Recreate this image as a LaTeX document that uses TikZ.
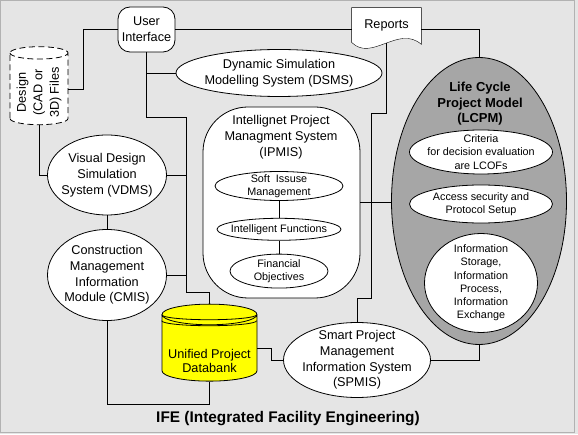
\documentclass[tikz,border=0pt]{standalone}
\usepackage{fontspec}
\setmainfont{Liberation Sans}
\usetikzlibrary{positioning, shapes.geometric, calc, backgrounds}

\definecolor{bggray}{RGB}{229,229,229}
\definecolor{lcpmgray}{RGB}{166,166,166}
\definecolor{dbyellow}{RGB}{255,255,0}
\newcommand{\bigfont}{\fontsize{12.7}{15.8}\selectfont}
\newcommand{\smallfont}{\fontsize{10.8}{13.2}\selectfont}

\begin{document}
\begin{tikzpicture}[x=1pt, y=1pt, line width=0.8pt,
    module/.style={draw, ellipse, fill=white, inner sep=-10pt, align=center, font=\bigfont},
    submodule/.style={draw, ellipse, fill=white, inner sep=-10pt, align=center, font=\smallfont},
    heading/.style={align=center, font=\bigfont}]
			\node (ui) [draw, rectangle, rounded corners=12pt, fill=white, minimum width=57pt, minimum height=45pt, inner sep=0pt, align=center, font=\bigfont] at (146.5,404.5) {User\\Interface};
			\node (rep) [rectangle, minimum width=69pt, minimum height=35pt, inner sep=0pt, font=\bigfont] at (386.5,408.5) {\raisebox{2.5pt}{Reports}};
			\node (design) [draw, dash pattern=on 6pt off 3.5pt, cylinder, shape border rotate=90, aspect=0.25, fill=white, minimum width=58pt, minimum height=78pt, inner sep=0pt, font=\fontsize{12.7}{16.5}\selectfont] at (39,345) {\raisebox{-29pt}[0pt][0pt]{\rotatebox{90}{\begin{tabular}{@{}c@{}}Design\\(CAD or\\3D) Files\end{tabular}}}};
			\node (dsms) [module, minimum width=206pt, minimum height=47pt] at (279,361) {Dynamic Simulation\\Modelling System (DSMS)};
			\node (ipmis) [draw, rectangle, rounded corners=45pt, fill=white, minimum width=157pt, minimum height=191pt] at (281.5,231.5) {};
			\node (ipmistitle) [heading] at (281,297) {Intellignet Project\\Managment System\\(IPMIS)};
			\node (soft) [submodule, minimum width=128pt, minimum height=29pt] at (279,248) {Soft\ \ Issuse\\Management};
			\node (intf) [submodule, minimum width=124pt, minimum height=22pt, below=17pt of soft] {Intelligent Functions};
			\node (fin) [submodule, minimum width=98pt, minimum height=34pt, below=13pt of intf] {Financial\\Objectives};
			\node (lcpm) [draw, ellipse, fill=lcpmgray, minimum width=175pt, minimum height=287pt] at (479,233) {};
			\node (lcpmtitle) [heading, font=\bfseries\fontsize{13}{15.5}\selectfont] at (480,330) {Life Cycle\\Project Model\\(LCPM)};
			\node (crit) [submodule, minimum width=143pt, minimum height=44pt] at (481,282) {Criteria\\for decision evaluation\\are LCOFs};
			\node (acc) [submodule, minimum width=143pt, minimum height=38pt] at (481,230) {Access security and\\Protocol Setup};
			\node (info) [submodule, minimum width=113pt, minimum height=99pt] at (481,151) {Information\\Storage,\\Information\\Process,\\Information\\Exchange};
			\node (vdms) [module, minimum width=119pt, minimum height=80pt] at (107,259) {Visual Design\\Simulation\\System (VDMS)};
			\node (cmis) [module, minimum width=119pt, minimum height=91pt] at (107,159) {Construction\\Management\\Information\\Module (CMIS)};
			\node (db) [draw, cylinder, shape border rotate=90, aspect=0.25, fill=dbyellow, minimum width=95pt, minimum height=77pt, inner sep=0pt, font=\fontsize{12.7}{14}\selectfont] at (209.5,86) {\raisebox{-18pt}[0pt][0pt]{\begin{tabular}{@{}c@{}}Unified Project\\Databank\end{tabular}}};
			\node (spmis) [module, minimum width=147pt, minimum height=75pt] at (357,74) {Smart Project\\Management\\Information System\\(SPMIS)};
			\node (ife) [heading, font=\bfseries\fontsize{15.4}{17}\selectfont] at (288,15) {IFE (Integrated Facility Engineering)};
			\coordinate (bus) at (186,317);
			\foreach \d in {6,12}
				\draw ($(db.west |- db.north)+(0,-5-\d)$) arc[start angle=180, end angle=360, x radius=47.5, y radius=5];
			\begin{scope}[on background layer]
				\fill[bggray] (0,0) rectangle (578,434);
				\draw[gray!60, line width=1pt] (0.5,1.5) rectangle (574.5,433.5);
				\draw[fill=white] (rep.north west) -- (rep.north east) -- ($(rep.south east)+(0,-1)$) .. controls +(-23,20) and +(20,-20) .. ($(rep.south west)+(0,1)$) -- cycle;
			\end{scope}
			\draw (ui.east) -- (ui.east -| rep.west);
			\draw (ui.east -| rep.east) -| (lcpm.north);
			\draw (design.east) -- ++(15,0) |- (ui.west);
			\draw (design.south) |- (vdms.west);
			\draw (ui.south) |- (bus) -- ++(0,-175) -| (db.north);
			\draw (ui.south |- dsms.west) -- (dsms.west);
			\draw (vdms.east) -- (vdms.east -| bus);
			\draw (cmis.east) -- (cmis.east -| bus);
			\draw (vdms) -- (cmis);
			\draw (cmis.south) -- ++(0,-83) -| (db.south);
			\draw (db.east) -- ++(14,0) |- (spmis.west);
			\draw (spmis.east) -| (lcpm.south);
			\draw (ipmis.east) -- (ipmis.east -| lcpm.west);
			\draw (rep.south) -- ++(0,-70) -- ++(-15,0) -- ++(0,-185) -| (spmis.north);
			\draw (soft) -- (intf);
			\draw (intf) -- (fin);
		\end{tikzpicture}
\end{document}
